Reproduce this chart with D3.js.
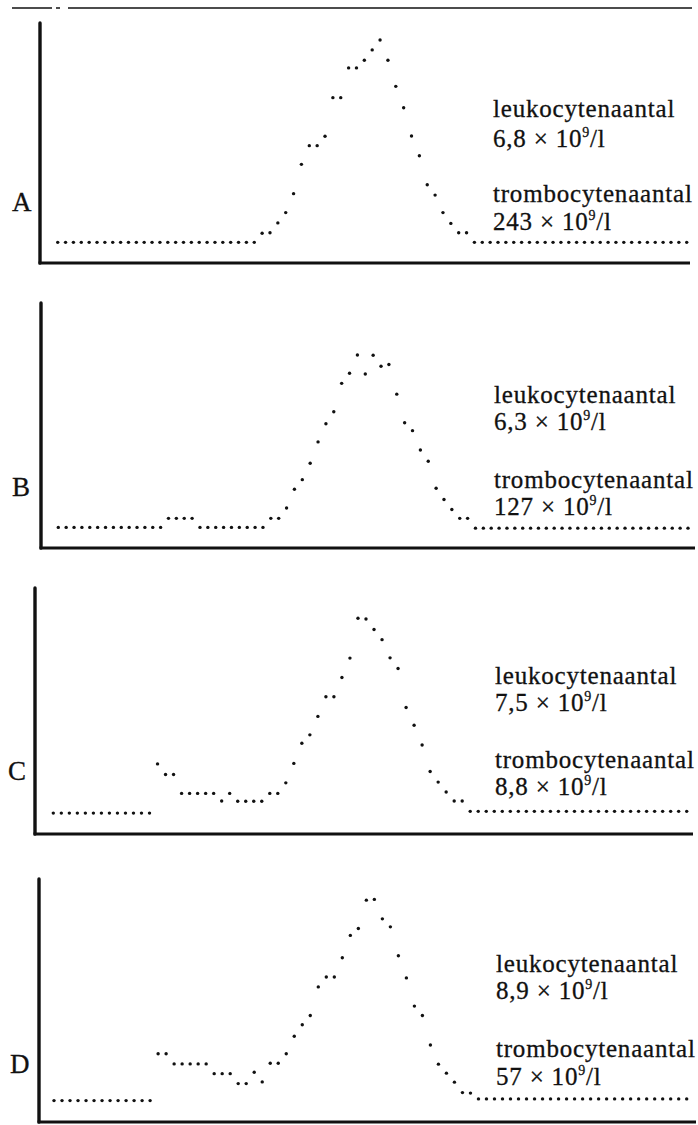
<!DOCTYPE html>
<html>
<head>
<meta charset="utf-8">
<script src="https://cdn.jsdelivr.net/npm/d3@7"></script>
<style>
body { margin: 0; background: #fff; }
svg { display: block; }
</style>
</head>
<body>
<svg id="plot" width="698" height="1125"></svg>
<script>
// platelet size histograms, one value per channel (0-100 = height of the y-axis)
var panelLabels = ["A", "B", "C", "D"];
var leukocyten = ["6,8", "6,3", "7,5", "8,9"];
var trombocyten = ["243", "127", "8,8", "57"];

var countsA = [8.6, 8.6, 8.6, 8.6, 8.6, 8.6, 8.6, 8.6, 8.6, 8.6, 8.6, 8.6, 8.6, 8.6, 8.6, 8.6, 8.6, 8.6, 8.6, 8.6,
    8.6, 8.6, 8.6, 8.6, 8.6, 8.6, 12.4, 12.6, 16.7, 21.0, 28.9, 41.1, 48.9, 48.9, 52.8, 68.9, 68.9, 81.3, 81.3, 84.5,
    88.8, 92.9, 84.5, 73.6, 64.7, 52.9, 44.7, 32.6, 28.3, 21.0, 16.5, 12.6, 12.6, 8.6, 8.6, 8.6, 8.6, 8.6, 8.6, 8.6,
    8.6, 8.6, 8.6, 8.6, 8.6, 8.6, 8.6, 8.6, 8.6, 8.6, 8.6, 8.6, 8.6, 8.6, 8.6, 8.6, 8.6, 8.6, 8.6, 8.6, 8.6];

var countsB = [8.4, 8.4, 8.4, 8.4, 8.4, 8.4, 8.4, 8.4, 8.4, 8.4, 8.4, 8.4, 8.4, 8.4, 12.1, 12.1, 12.1, 12.1, 8.4, 8.4,
    8.4, 8.4, 8.4, 8.4, 8.4, 8.4, 8.4, 12.1, 12.1, 16.3, 24.0, 27.9, 34.6, 43.3, 50.7, 55.6, 67.2, 71.3, 78.8, 71.0,
    78.7, 74.2, 74.9, 62.8, 51.1, 47.9, 40.0, 35.4, 24.4, 19.8, 15.7, 12.1, 12.1, 8.1, 8.1, 8.1, 8.1, 8.1, 8.1, 8.1,
    8.1, 8.1, 8.1, 8.1, 8.1, 8.1, 8.1, 8.1, 8.1, 8.1, 8.1, 8.1, 8.1, 8.1, 8.1, 8.1, 8.1, 8.1, 8.1, 8.1, 8.1];

var countsC = [8.5, 8.5, 8.5, 8.5, 8.5, 8.5, 8.5, 8.5, 8.5, 8.5, 8.5, 8.5, 8.5, 28.5, 24.2, 24.2, 16.5, 16.5, 16.5, 16.5,
    16.5, 13.4, 16.5, 13.3, 13.3, 13.3, 13.3, 16.5, 16.5, 20.8, 28.7, 36.9, 40.3, 47.8, 55.8, 55.8, 63.6, 71.5, 87.7, 87.4,
    83.1, 79.0, 71.6, 67.3, 51.4, 44.2, 36.2, 25.4, 21.1, 17.1, 13.4, 13.4, 9.2, 9.2, 9.2, 9.2, 9.2, 9.2, 9.2, 9.2,
    9.2, 9.2, 9.2, 9.2, 9.2, 9.2, 9.2, 9.2, 9.2, 9.2, 9.2, 9.2, 9.2, 9.2, 9.2, 9.2, 9.2, 9.2, 9.2, 9.2];

var countsD = [8.8, 8.8, 8.8, 8.8, 8.8, 8.8, 8.8, 8.8, 8.8, 8.8, 8.8, 8.8, 8.8, 28.1, 28.1, 23.9, 23.9, 23.9, 23.9, 23.9,
    19.9, 19.9, 19.9, 15.8, 15.8, 20.5, 16.5, 24.2, 24.2, 28.1, 35.3, 40.0, 43.8, 55.6, 59.7, 59.7, 67.6, 76.8, 79.6, 91.3,
    91.6, 83.6, 80.3, 68.4, 59.3, 47.7, 43.8, 31.7, 23.8, 20.1, 16.4, 12.1, 11.9, 9.5, 9.5, 9.5, 9.5, 9.5, 9.5, 9.5,
    9.5, 9.5, 9.5, 9.5, 9.5, 9.5, 9.5, 9.5, 9.5, 9.5, 9.5, 9.5, 9.5, 9.5, 9.5, 9.5, 9.5, 9.5, 9.5, 9.5];

var series = [countsA, countsB, countsC, countsD];

// where each panel sits on the page
var layout = [
    {axisX: 40, top: 23,  bottom: 263,  right: 690, x0: 57.7, x1: 686.7, labelX: 12, labelY: 211,  textX: 493, lines: [117, 147, 202, 230]},
    {axisX: 41, top: 303, bottom: 548,  right: 695, x0: 58.3, x1: 688,   labelX: 12, labelY: 496,  textX: 494, lines: [403, 430, 488, 515]},
    {axisX: 35, top: 588, bottom: 834,  right: 693, x0: 53.3, x1: 686.7, labelX: 8,  labelY: 780,  textX: 495, lines: [684, 711, 768, 795]},
    {axisX: 39, top: 879, bottom: 1122, right: 696, x0: 54,   x1: 686.7, labelX: 10, labelY: 1073, textX: 496, lines: [972, 999, 1057, 1085]}
];

var svg = d3.select("#plot");
var ink = "#111";
var serif = "'Liberation Serif', 'Times New Roman', serif";

// rule at the top of the page
[[12, 52], [56, 60], [68, 692]].forEach(function(seg) {
    svg.append("line")
        .attr("x1", seg[0]).attr("x2", seg[1])
        .attr("y1", 8).attr("y2", 8)
        .attr("stroke", ink).attr("stroke-width", 1.5);
});

layout.forEach(function(p, k) {
    var data = series[k];
    var x = d3.scaleLinear().domain([0, data.length - 1]).range([p.x0, p.x1]);
    var y = d3.scaleLinear().domain([0, 100]).range([p.bottom, p.top]);
    var g = svg.append("g").attr("class", "panel");

    g.append("line")
        .attr("x1", p.axisX).attr("x2", p.axisX)
        .attr("y1", p.top).attr("y2", p.bottom)
        .attr("stroke", ink).attr("stroke-width", 3.4).attr("stroke-linecap", "round");
    g.append("line")
        .attr("x1", p.axisX - 1.5).attr("x2", p.right)
        .attr("y1", p.bottom).attr("y2", p.bottom)
        .attr("stroke", ink).attr("stroke-width", 3);

    g.selectAll("circle")
        .data(data)
        .enter().append("circle")
        .attr("cx", function(d, i) { return x(i); })
        .attr("cy", function(d) { return y(d); })
        .attr("r", 1.7)
        .attr("fill", ink);

    g.append("text")
        .attr("x", p.labelX).attr("y", p.labelY)
        .attr("font-family", serif).attr("font-size", 27)
        .attr("fill", ink).attr("stroke", ink).attr("stroke-width", 0.3)
        .text(panelLabels[k]);

    var texts = [
        {t: "leukocytenaantal"},
        {t: leukocyten[k] + " \u00d7 10", sup: "9", tail: "/l"},
        {t: "trombocytenaantal"},
        {t: trombocyten[k] + " \u00d7 10", sup: "9", tail: "/l"}
    ];
    texts.forEach(function(d, j) {
        var txt = g.append("text")
            .attr("x", p.textX).attr("y", p.lines[j])
            .attr("font-family", serif).attr("font-size", 25)
            .attr("letter-spacing", 0.8)
            .attr("fill", ink).attr("stroke", ink).attr("stroke-width", 0.3)
            .text(d.t);
        if (d.sup) {
            txt.append("tspan").attr("dy", -10).attr("font-size", 14).text(d.sup);
            txt.append("tspan").attr("dy", 10).text(d.tail);
        }
    });
});
</script>
</body>
</html>
